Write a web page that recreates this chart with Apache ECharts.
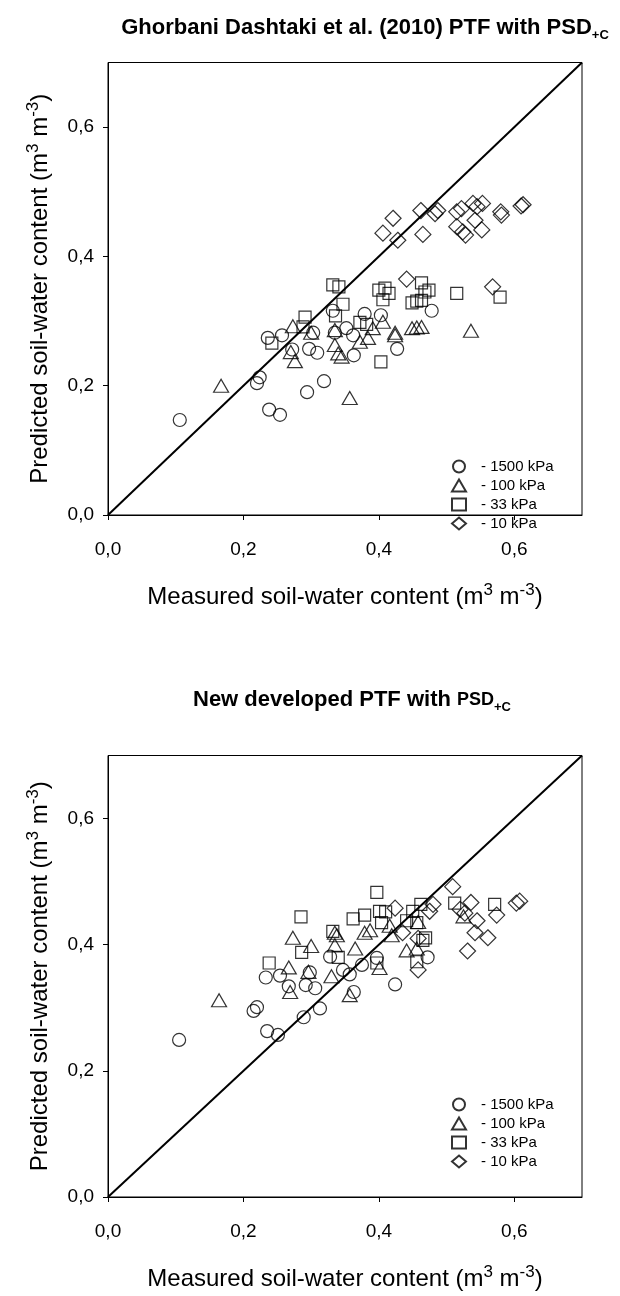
<!DOCTYPE html>
<html>
<head>
<meta charset="utf-8">
<script src="https://cdn.jsdelivr.net/npm/echarts@6/dist/echarts.min.js"></script>
<style>html,body{margin:0;padding:0;background:#fff}#c{width:620px;height:1296px}</style>
</head>
<body>
<div id="c"></div>
<script>
// ---- data (measured, predicted) ----
const tickValues = [0, 0.2, 0.4, 0.6];
const legendNames = ['- 1500 kPa', '- 100 kPa', '- 33 kPa', '- 10 kPa'];
const diagonal = [[0, 0], [0.7, 0.7]];

// Top chart: Ghorbani Dashtaki et al. (2010)
const topK1500 = [[0.106,0.147],[0.220,0.204],[0.224,0.213],[0.238,0.163],[0.254,0.155],[0.236,0.274],[0.257,0.278],[0.272,0.256],[0.294,0.190],[0.297,0.257],[0.303,0.282],[0.309,0.251],[0.319,0.207],[0.332,0.316],[0.335,0.282],[0.352,0.289],[0.362,0.278],[0.363,0.247],[0.379,0.311],[0.403,0.309],[0.427,0.257],[0.478,0.316]];
const topK100 = [[0.167,0.200],[0.273,0.292],[0.270,0.252],[0.276,0.238],[0.300,0.282],[0.335,0.286],[0.335,0.263],[0.340,0.250],[0.345,0.245],[0.357,0.181],[0.372,0.268],[0.384,0.274],[0.391,0.289],[0.406,0.299],[0.424,0.282],[0.424,0.278],[0.449,0.289],[0.456,0.290],[0.463,0.291],[0.536,0.285]];
const topK33 = [[0.242,0.266],[0.288,0.291],[0.291,0.306],[0.332,0.356],[0.341,0.353],[0.336,0.308],[0.347,0.326],[0.372,0.298],[0.382,0.295],[0.403,0.237],[0.400,0.348],[0.409,0.351],[0.415,0.343],[0.406,0.333],[0.449,0.328],[0.456,0.331],[0.463,0.332],[0.463,0.359],[0.468,0.345],[0.474,0.348],[0.515,0.343],[0.579,0.337]];
const topK10 = [[0.406,0.436],[0.421,0.459],[0.428,0.425],[0.441,0.365],[0.462,0.471],[0.465,0.434],[0.483,0.466],[0.487,0.471],[0.515,0.469],[0.522,0.474],[0.539,0.482],[0.545,0.477],[0.553,0.482],[0.515,0.446],[0.524,0.438],[0.528,0.433],[0.542,0.456],[0.552,0.441],[0.568,0.353],[0.580,0.469],[0.581,0.464],[0.610,0.478],[0.613,0.480]];

// Bottom chart: new developed PTF
const botK1500 = [[0.105,0.249],[0.215,0.295],[0.220,0.301],[0.235,0.263],[0.251,0.257],[0.233,0.348],[0.254,0.351],[0.267,0.334],[0.292,0.336],[0.306,0.331],[0.289,0.285],[0.313,0.299],[0.298,0.356],[0.328,0.381],[0.347,0.360],[0.357,0.353],[0.363,0.325],[0.375,0.368],[0.397,0.379],[0.424,0.337],[0.472,0.380]];
const botK100 = [[0.164,0.312],[0.273,0.411],[0.267,0.364],[0.269,0.325],[0.296,0.357],[0.300,0.398],[0.335,0.419],[0.338,0.415],[0.335,0.399],[0.330,0.350],[0.357,0.320],[0.365,0.394],[0.379,0.419],[0.387,0.423],[0.401,0.363],[0.416,0.430],[0.419,0.415],[0.441,0.391],[0.456,0.394],[0.458,0.436],[0.525,0.445]];
const botK33 = [[0.238,0.371],[0.285,0.444],[0.286,0.388],[0.332,0.421],[0.340,0.380],[0.362,0.441],[0.379,0.447],[0.397,0.483],[0.401,0.453],[0.410,0.452],[0.404,0.435],[0.397,0.371],[0.441,0.438],[0.450,0.453],[0.462,0.464],[0.456,0.435],[0.456,0.373],[0.469,0.411],[0.465,0.407],[0.512,0.466],[0.571,0.464]];
const botK10 = [[0.509,0.492],[0.424,0.458],[0.480,0.464],[0.475,0.453],[0.536,0.467],[0.520,0.456],[0.527,0.450],[0.545,0.438],[0.542,0.419],[0.561,0.411],[0.574,0.447],[0.603,0.466],[0.608,0.469],[0.531,0.390],[0.435,0.419],[0.458,0.410],[0.458,0.360]];

// ---- chart ----
const FONT = "'Liberation Sans', Arial, sans-serif";
const chart = echarts.init(document.getElementById('c'), null, {renderer: 'canvas'});
const fmt = v => v.toFixed(1).replace('.', ',');

const grids = [
  {left: 108, top: 62.5, width: 474, height: 452.5, show: true, borderColor: '#000', borderWidth: 1, backgroundColor: 'transparent'},
  {left: 108, top: 755.5, width: 474, height: 452.5, show: true, borderColor: '#000', borderWidth: 1, backgroundColor: 'transparent'}
];

const supRich = {sup: {fontSize: 17, lineHeight: 17, verticalAlign: 'top', fontFamily: FONT, color: '#000'}};
function mkAxis(gi, isX) {
  return {
    gridIndex: gi, type: 'value', min: 0, max: 0.7, interval: 0.2,
    name: isX ? 'Measured soil-water content (m{sup|3} m{sup|-3})' : 'Predicted soil-water content (m{sup|3} m{sup|-3})',
    nameLocation: 'middle', nameGap: isX ? 67 : 52,
    nameTextStyle: {fontSize: 24, fontFamily: FONT, color: '#000', lineHeight: 31, rich: supRich},
    axisLine: {show: true, onZero: false, lineStyle: {color: '#000', width: 1}},
    axisTick: {show: true, inside: false, length: 5, lineStyle: {color: '#000'}, customValues: tickValues},
    axisLabel: {show: true, customValues: tickValues, formatter: fmt, fontSize: 19, fontFamily: FONT, color: '#000', margin: isX ? 25 : 14},
    splitLine: {show: false}
  };
}

const symbols = [
  {symbol: 'circle', size: 13},
  {symbol: 'triangle', size: [15, 13]},
  {symbol: 'rect', size: 12},
  {symbol: 'diamond', size: [16, 16]}
];
const style = {color: 'rgba(0,0,0,0)', borderColor: '#000', borderWidth: 1.2};

function scatter(name, data, gi, k) {
  return {
    name, type: 'scatter', xAxisIndex: gi, yAxisIndex: gi, data,
    symbol: symbols[k].symbol, symbolSize: symbols[k].size,
    itemStyle: style, emphasis: {disabled: true}, silent: true, z: 3
  };
}
function diag(gi) {
  return {type: 'line', xAxisIndex: gi, yAxisIndex: gi, data: diagonal, symbol: 'none',
    lineStyle: {color: '#000', width: 2}, silent: true, z: 2};
}

const seriesNames = ['s1500', 's100', 's33', 's10'];
const nameMap = {s1500: legendNames[0], s100: legendNames[1], s33: legendNames[2], s10: legendNames[3]};

function legend(top) {
  return {
    orient: 'vertical', left: 446, top, itemGap: 4, itemWidth: 14, itemHeight: 12,
    data: seriesNames, selectedMode: false,
    formatter: n => nameMap[n],
    textStyle: {fontSize: 15, fontFamily: FONT, color: '#000', padding: [0, 0, 0, 10]}
  };
}

const titleRich = {
  b: {fontSize: 22, fontWeight: 'bold', fontFamily: FONT, color: '#000', lineHeight: 28},
  bs: {fontSize: 18, fontWeight: 'bold', fontFamily: FONT, color: '#000', lineHeight: 28},
  s: {fontSize: 13, fontWeight: 'bold', fontFamily: FONT, color: '#000', lineHeight: 12, verticalAlign: 'bottom'}
};

chart.setOption({
  backgroundColor: '#fff',
  animation: false,
  grid: grids,
  xAxis: [mkAxis(0, true), mkAxis(1, true)],
  yAxis: [mkAxis(0, false), mkAxis(1, false)],
  legend: [legend(454), legend(1092)],
  graphic: [
    {type: 'text', x: 365, y: 28, style: {text: '{b|Ghorbani Dashtaki et al. (2010) PTF with PSD}{s|+C}', rich: titleRich, align: 'center', verticalAlign: 'middle'}},
    {type: 'text', x: 352, y: 700, style: {text: '{b|New developed PTF with }{bs|PSD}{s|+C}', rich: titleRich, align: 'center', verticalAlign: 'middle'}}
  ],
  series: [
    diag(0), diag(1),
    scatter('s1500', topK1500, 0, 0), scatter('s100', topK100, 0, 1), scatter('s33', topK33, 0, 2), scatter('s10', topK10, 0, 3),
    scatter('s1500', botK1500, 1, 0), scatter('s100', botK100, 1, 1), scatter('s33', botK33, 1, 2), scatter('s10', botK10, 1, 3)
  ]
});
</script>
</body>
</html>
